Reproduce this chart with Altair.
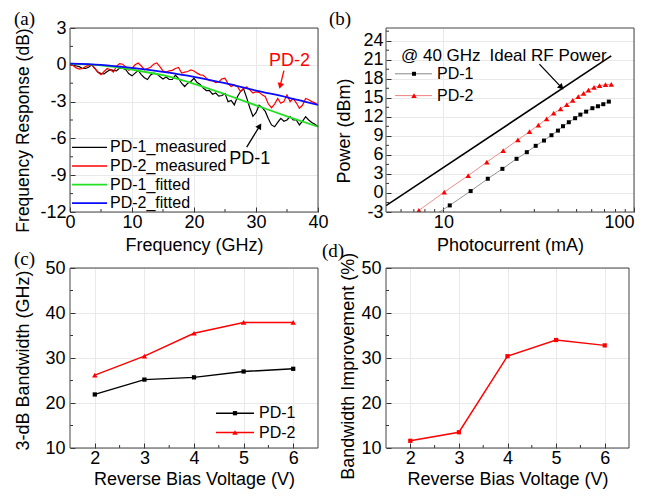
import altair as alt
import pandas as pd

FONT = "Liberation Sans"
SERIF = "Liberation Serif"
FS = 18
LFS = 16
GRID = "#e9e9e9"
TICK = "#333333"
FRAME = "#444444"

# ---------------- panel (a): frequency response ----------------
FREQ = [0.0, 0.5, 1.0, 1.5, 2.0, 2.5, 3.0, 3.5, 4.0, 4.5,
        5.0, 5.5, 6.0, 6.5, 7.0, 7.5, 8.0, 8.5, 9.0, 9.5,
        10.0, 10.5, 11.0, 11.5, 12.0, 12.5, 13.0, 13.5, 14.0, 14.5,
        15.0, 15.5, 16.0, 16.5, 17.0, 17.5, 18.0, 18.5, 19.0, 19.5,
        20.0, 20.5, 21.0, 21.5, 22.0, 22.5, 23.0, 23.5, 24.0, 24.5,
        25.0, 25.5, 26.0, 26.5, 27.0, 27.5, 28.0, 28.5, 29.0, 29.5,
        30.0, 30.5, 31.0, 31.5, 32.0, 32.5, 33.0, 33.5, 34.0, 34.5,
        35.0, 35.5, 36.0, 36.5, 37.0, 37.5, 38.0, 38.5, 39.0, 39.5,
        40.0]
PD1_MEAS = [0.05, -0.05, -0.1, -0.15, -0.3, -0.3, -0.2, 0.0, -0.3, -0.6,
            -0.72, -0.74, -0.55, -0.4, -0.45, -0.5, -0.27, -0.27, -0.4, -0.74,
            -0.9, -0.68, -0.46, -0.8, -1.05, -1.2, -0.82, -0.68, -0.74, -0.95,
            -1.15, -1.0, -1.2, -1.2, -0.85, -1.1, -1.5, -1.77, -1.5, -1.36,
            -1.1, -1.45, -1.6, -1.9, -2.1, -2.1, -2.4, -2.3, -2.55, -2.5,
            -2.35, -3.0, -2.9, -3.27, -2.6, -2.18, -1.95, -2.7, -3.5, -4.2,
            -3.9, -3.3, -3.5, -3.8, -4.4, -4.9, -5.05, -4.7, -4.36, -4.6,
            -4.5, -4.23, -4.5, -4.5, -4.9, -4.6, -4.23, -4.5, -4.7, -4.85,
            -5.05]
PD2_MEAS = [0.0, -0.05, -0.25, -0.35, -0.3, -0.15, -0.05, 0.0, -0.3, -0.6,
            -0.8, -0.55, -0.3, -0.4, -0.6, -0.1, 0.1, 0.05, -0.2, -0.45,
            -0.3, 0.0, 0.15, -0.1, -0.4, -0.3, -0.2, 0.05, 0.15, -0.15,
            -0.5, -0.6, -0.5, -0.45, -0.3, -0.22, -0.68, -0.6, -0.55, -0.41,
            -0.5, -0.68, -0.82, -0.85, -1.09, -1.3, -1.3, -1.45, -1.4, -1.15,
            -1.1, -1.55, -1.77, -1.64, -1.77, -2.18, -1.9, -1.8, -2.05, -2.3,
            -2.2, -2.25, -2.45, -2.6, -3.2, -3.5, -3.2, -2.75, -3.14, -3.0,
            -2.45, -3.0, -2.75, -3.1, -3.55, -3.3, -2.75, -2.85, -3.0, -3.1,
            -3.27]
FIT_FREQ = [0, 5, 10, 15, 20, 25, 30, 35, 40]
PD1_FIT = [0.1, -0.05, -0.4, -0.85, -1.55, -2.4, -3.3, -4.2, -5.05]
PD2_FIT = [0.1, 0.0, -0.25, -0.58, -0.98, -1.5, -2.1, -2.65, -3.27]
A_NAMES = ["PD-1_measured", "PD-2_measured", "PD-1_fitted", "PD-2_fitted"]
A_COLORS = ["#000000", "#ff0000", "#22e022", "#0a0aff"]

# ---------------- panel (b): RF power ----------------
PD1_I = [7.6, 10.8, 13.9, 17.1, 20.4, 24.2, 27.4, 30.5, 33.7, 36.9, 39.9,
         42.4, 45.5, 49.1, 52.3, 56.1, 60.5, 64.7, 69.0, 73.8]
PD1_P = [-4.9, -1.96, 0.3, 2.24, 3.8, 5.38, 6.43, 7.43, 8.26, 9.1, 9.83,
         10.52, 11.15, 11.78, 12.35, 12.82, 13.36, 13.67, 13.99, 14.4]
PD2_I = [7.44, 10.1, 13.5, 16.9, 20.6, 24.6, 28.3, 31.5, 34.8, 37.9,
         41.2, 44.4, 47.7, 51.0, 54.4, 57.7, 61.7, 66.0, 70.9, 76.0]
PD2_P = [-2.75, 0.14, 2.75, 4.86, 6.69, 8.37, 9.67, 10.7, 11.67, 12.57,
         13.24, 13.92, 14.6, 15.2, 15.7, 16.2, 16.65, 16.9, 17.06, 17.1]
IDEAL_I = [5.0, 76.0]
IDEAL_P = [-2.0, 21.6]

# ---------------- panels (c), (d) ----------------
BIAS = [2, 3, 4, 5, 6]
BW_PD1 = [21.9, 25.2, 25.7, 27.0, 27.6]
BW_PD2 = [26.2, 30.4, 35.5, 37.9, 37.9]
IMPROVE = [11.6, 13.5, 30.4, 34.0, 32.8]

# tick positions
A_XT, A_XM = [0, 10, 20, 30, 40], [5, 15, 25, 35]
A_YT, A_YM = [-12, -9, -6, -3, 0, 3], [-10.5, -7.5, -4.5, -1.5, 1.5]
B_XT, B_XM = [10, 100], [6, 7, 8, 9, 20, 30, 40, 50, 60, 70, 80, 90]
B_YT = [-3, 0, 3, 6, 9, 12, 15, 18, 21, 24]
B_YM = [-1.5, 1.5, 4.5, 7.5, 10.5, 13.5, 16.5, 19.5, 22.5, 25.5]
CD_XT, CD_XM = [2, 3, 4, 5, 6], [2.5, 3.5, 4.5, 5.5]
CD_YT, CD_YM = [10, 20, 30, 40, 50], [15, 25, 35, 45]

ONE = pd.DataFrame({"k": [0]})


def axis_x(values, title, title_y, flush=False):
    return alt.Axis(values=values, title=title, grid=True, gridColor=GRID, domain=False,
                    ticks=True, tickSize=5, tickColor=TICK, offset=-5, labelFlush=flush,
                    labelOverlap=False, labelFont=FONT, labelFontSize=FS, labelColor="black",
                    labelPadding=1, labelExpr="datum.value + ''",
                    titleFont=FONT, titleFontSize=FS, titleFontWeight="normal",
                    titleColor="black", titleY=title_y, titleBaseline="alphabetic")


def axis_y(values, title, title_x, title_y, label_pad=4, title_size=FS):
    return alt.Axis(values=values, title=title, grid=True, gridColor=GRID, domain=False,
                    ticks=True, tickSize=5, tickColor=TICK, offset=-5,
                    labelOverlap=False, labelFont=FONT, labelFontSize=FS, labelColor="black",
                    labelPadding=label_pad, labelExpr="datum.value + ''",
                    titleFont=FONT, titleFontSize=title_size, titleFontWeight="normal",
                    titleColor="black", titleX=title_x, titleY=title_y, titleAngle=270,
                    titleAlign="center", titleBaseline="middle")


def frame(w, h):
    return alt.Chart(ONE).mark_rect(filled=False, color=FRAME, strokeWidth=1).encode(
        x=alt.value(0), x2=alt.value(w), y=alt.value(0), y2=alt.value(h))


def text(txt, x, y, size=LFS, font=FONT, color="black", align="left", baseline="middle"):
    return alt.Chart(ONE).mark_text(text=txt, font=font, fontSize=size, color=color,
                                    align=align, baseline=baseline).encode(
        x=alt.value(x), y=alt.value(y))


def hline(x1, x2, y, color, width):
    return alt.Chart(ONE).mark_rule(color=color, strokeWidth=width).encode(
        x=alt.value(x1), x2=alt.value(x2), y=alt.value(y))


def marker(x, y, shape, color, size):
    return alt.Chart(ONE).mark_point(shape=shape, filled=True, color=color, size=size,
                                     opacity=1).encode(x=alt.value(x), y=alt.value(y))


def minor_x(vals, X, h, length=3):
    return alt.Chart(pd.DataFrame({"t": vals})).mark_rule(color=TICK, strokeWidth=1).encode(
        x=X("t"), y=alt.value(h), y2=alt.value(h - length))


def minor_y(vals, Y, length=3):
    return alt.Chart(pd.DataFrame({"t": vals})).mark_rule(color=TICK, strokeWidth=1).encode(
        y=Y("t"), x=alt.value(0), x2=alt.value(length))


TOP_H = 184
BOT_H = 180

# ================= (a) =================
WA, HA = 248, TOP_H
SXA = alt.Scale(domain=[0, 40], nice=False)
SYA = alt.Scale(domain=[-12, 3], nice=False)
AXA = axis_x(A_XT, "Frequency (GHz)", 43)
AYA = axis_y(A_YT, "Frequency Response (dB)", -51.5, 102, title_size=17.5)


def XA(f):
    return alt.X(f, type="quantitative", scale=SXA, axis=AXA)


def YA(f):
    return alt.Y(f, type="quantitative", scale=SYA, axis=AYA)


meas1 = pd.DataFrame({"f": FREQ, "v": PD1_MEAS})
meas2 = pd.DataFrame({"f": FREQ, "v": PD2_MEAS})
fit1 = pd.DataFrame({"f": FIT_FREQ, "v": PD1_FIT})
fit2 = pd.DataFrame({"f": FIT_FREQ, "v": PD2_FIT})

layers_a = [
    minor_x(A_XM, XA, HA), minor_y(A_YM, YA),
    alt.Chart(meas1).mark_line(color=A_COLORS[0], strokeWidth=1.2).encode(x=XA("f"), y=YA("v")),
    alt.Chart(meas2).mark_line(color=A_COLORS[1], strokeWidth=1.2).encode(x=XA("f"), y=YA("v")),
    alt.Chart(fit1).mark_line(color=A_COLORS[2], strokeWidth=1.8, interpolate="monotone").encode(x=XA("f"), y=YA("v")),
    alt.Chart(fit2).mark_line(color=A_COLORS[3], strokeWidth=1.8, interpolate="monotone").encode(x=XA("f"), y=YA("v")),
]
arr_a1 = pd.DataFrame({"f": [28.5, 30.6], "v": [-6.71, -4.99]})
arr_a2 = pd.DataFrame({"f": [34.5, 33.9], "v": [-0.47, -1.72]})
layers_a += [
    alt.Chart(arr_a1).mark_line(color="black", strokeWidth=1.3).encode(x=XA("f"), y=YA("v")),
    alt.Chart(arr_a1.iloc[[1]]).mark_point(shape="triangle-up", filled=True, color="black",
                                           size=45, opacity=1, angle=32).encode(x=XA("f"), y=YA("v")),
    alt.Chart(arr_a2).mark_line(color="red", strokeWidth=1.3).encode(x=XA("f"), y=YA("v")),
    alt.Chart(arr_a2.iloc[[1]]).mark_point(shape="triangle-up", filled=True, color="red",
                                           size=45, opacity=1, angle=195).encode(x=XA("f"), y=YA("v")),
    alt.Chart(pd.DataFrame({"f": [29.0], "v": [-7.65], "t": ["PD-1"]})).mark_text(
        font=FONT, fontSize=FS, color="black").encode(x=XA("f"), y=YA("v"), text="t:N"),
    alt.Chart(pd.DataFrame({"f": [35.4], "v": [0.33], "t": ["PD-2"]})).mark_text(
        font=FONT, fontSize=FS, color="red").encode(x=XA("f"), y=YA("v"), text="t:N"),
]
for i, (nm, col) in enumerate(zip(A_NAMES, A_COLORS)):
    yy = 119.4 + i * 18.6
    layers_a.append(hline(2, 37, yy, col, 1.8 if i >= 2 else 1.3))
    layers_a.append(text(nm, 40, yy))
layers_a += [frame(WA, HA), text("(a)", -56, -18, size=19, font=SERIF, baseline="top")]
panel_a = alt.layer(*layers_a).properties(width=WA, height=HA)

# ================= (b) =================
WB, HB = 248, TOP_H
SXB = alt.Scale(type="log", domain=[5, 100], nice=False)
SYB = alt.Scale(domain=[-3, 26], nice=False)
AXB = axis_x(B_XT, "Photocurrent (mA)", 43, flush=True)
AYB = axis_y(B_YT, "Power (dBm)", -46.3, 102.4, label_pad=3)


def XB(f):
    return alt.X(f, type="quantitative", scale=SXB, axis=AXB)


def YB(f):
    return alt.Y(f, type="quantitative", scale=SYB, axis=AYB)


b1 = pd.DataFrame({"i": PD1_I, "p": PD1_P})
b2 = pd.DataFrame({"i": PD2_I, "p": PD2_P})
bid = pd.DataFrame({"i": IDEAL_I, "p": IDEAL_P})
arr_b = pd.DataFrame({"i": [31.9, 41.6], "p": [20.3, 16.65]})
layers_b = [
    minor_x(B_XM, XB, HB), minor_y(B_YM, YB),
    alt.Chart(bid).mark_line(color="black", strokeWidth=1.6, clip=True).encode(x=XB("i"), y=YB("p")),
    alt.Chart(b1).mark_line(color="#888888", strokeWidth=0.9, clip=True).encode(x=XB("i"), y=YB("p")),
    alt.Chart(b1).mark_point(shape="square", filled=True, color="black", size=16, opacity=1,
                             clip=True).encode(x=XB("i"), y=YB("p")),
    alt.Chart(b2).mark_line(color="#f08080", strokeWidth=0.9, clip=True).encode(x=XB("i"), y=YB("p")),
    alt.Chart(b2).mark_point(shape="triangle-up", filled=True, color="red", size=30, opacity=1,
                             clip=True).encode(x=XB("i"), y=YB("p")),
    alt.Chart(arr_b).mark_line(color="black", strokeWidth=1.3).encode(x=XB("i"), y=YB("p")),
    alt.Chart(arr_b.iloc[[1]]).mark_point(shape="triangle-up", filled=True, color="black",
                                          size=45, opacity=1, angle=136).encode(x=XB("i"), y=YB("p")),
    alt.Chart(pd.DataFrame({"i": [35.4], "p": [21.65], "t": ["Ideal RF Power"]})).mark_text(
        font=FONT, fontSize=17, color="black").encode(x=XB("i"), y=YB("p"), text="t:N"),
    text("@ 40 GHz", 15, 28, size=17),
    hline(9, 46, 45.8, "#888888", 1),
    marker(28, 45.8, "square", "black", 16),
    text("PD-1", 51, 45.8),
    hline(9, 46, 67.6, "#f08080", 1),
    marker(28, 67.6, "triangle-up", "red", 30),
    text("PD-2", 51, 67.6),
    frame(WB, HB),
    text("(b)", -57, -18, size=19, font=SERIF, baseline="top"),
]
panel_b = alt.layer(*layers_b).properties(width=WB, height=HB)

# ================= (c) =================
WC_VIEW, WC, HC = 253, 248, BOT_H
SXC = alt.Scale(domain=[1.5, 6.5], nice=False, range=[0, WC])
SYC = alt.Scale(domain=[10, 50], nice=False)
AXC = axis_x(CD_XT, "Reverse Bias Voltage (V)", 41.5)
AYC = axis_y(CD_YT, "3-dB Bandwidth (GHz)", -51.5, 92, label_pad=5)


def XC(f):
    return alt.X(f, type="quantitative", scale=SXC, axis=AXC)


def YC(f):
    return alt.Y(f, type="quantitative", scale=SYC, axis=AYC)


c1 = pd.DataFrame({"v": BIAS, "b": BW_PD1})
c2 = pd.DataFrame({"v": BIAS, "b": BW_PD2})
layers_c = [
    minor_x(CD_XM, XC, HC), minor_y(CD_YM, YC),
    alt.Chart(c1).mark_line(color="black", strokeWidth=1.4).encode(x=XC("v"), y=YC("b")),
    alt.Chart(c1).mark_point(shape="square", filled=True, color="black", size=18, opacity=1).encode(x=XC("v"), y=YC("b")),
    alt.Chart(c2).mark_line(color="red", strokeWidth=1.4).encode(x=XC("v"), y=YC("b")),
    alt.Chart(c2).mark_point(shape="triangle-up", filled=True, color="red", size=30, opacity=1).encode(x=XC("v"), y=YC("b")),
    hline(146, 184, 145.2, "black", 1.4),
    marker(165, 145.2, "square", "black", 18),
    text("PD-1", 189, 145.2),
    hline(146, 184, 164.5, "red", 1.4),
    marker(165, 164.5, "triangle-up", "red", 30),
    text("PD-2", 189, 164.5),
    frame(WC, HC),
    text("(c)", -56, -18, size=19, font=SERIF, baseline="top"),
]
panel_c = alt.layer(*layers_c).properties(width=WC_VIEW, height=HC)

# ================= (d) =================
WD, HD = 243, BOT_H
SXD = alt.Scale(domain=[1.5, 6.5], nice=False)
SYD = alt.Scale(domain=[10, 50], nice=False)
AXD = axis_x(CD_XT, "Reverse Bias Voltage (V)", 41.5)
AYD = axis_y(CD_YT, "Bandwidth Improvement (%)", -42.7, 97.7, label_pad=5)


def XD(f):
    return alt.X(f, type="quantitative", scale=SXD, axis=AXD)


def YD(f):
    return alt.Y(f, type="quantitative", scale=SYD, axis=AYD)


d1 = pd.DataFrame({"v": BIAS, "p": IMPROVE})
layers_d = [
    minor_x(CD_XM, XD, HD), minor_y(CD_YM, YD),
    alt.Chart(d1).mark_line(color="red", strokeWidth=1.4).encode(x=XD("v"), y=YD("p")),
    alt.Chart(d1).mark_point(shape="square", filled=True, color="red", size=18, opacity=1).encode(x=XD("v"), y=YD("p")),
    frame(WD, HD),
    text("(d)", -64, -26, size=19, font=SERIF, baseline="top"),
]
panel_d = alt.layer(*layers_d).properties(width=WD, height=HD)

chart = alt.concat(panel_a, panel_b, panel_c, panel_d, columns=2,
                   spacing={"row": 56, "column": 63}, bounds="flush", align="none").properties(
    padding={"left": 6, "top": 2, "right": 0, "bottom": 0},
    background="white",
).configure_view(strokeWidth=0)

chart.save("out.html", embed_options={"renderer": "svg", "actions": False})
